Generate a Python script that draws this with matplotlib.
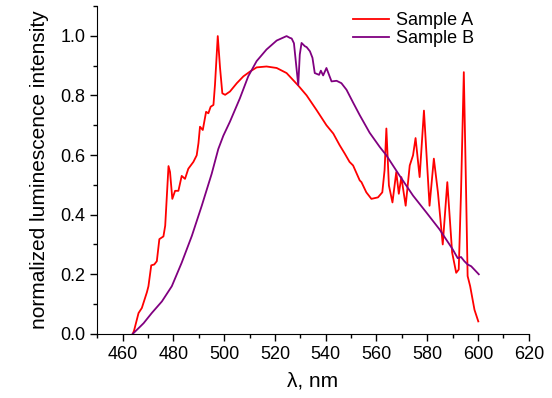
import numpy as np
import matplotlib
matplotlib.use("Agg")
from matplotlib import pyplot as plt
from matplotlib.ticker import MultipleLocator

# Sample A (red) - wavelength (nm) / normalized intensity
wl_a = [464.0, 464.5, 466.3, 467.6, 469.6, 470.2, 471.3, 472.5, 473.5, 474.5,
        476.1, 476.8, 478.1, 478.7, 479.6, 480.7, 482.0, 483.3, 484.6, 485.9,
        487.9, 489.2, 489.9, 490.5, 491.6, 492.9, 493.8, 494.7, 495.8, 496.4,
        497.5, 498.4, 499.3, 500.4, 502.3, 505.0, 507.6, 510.2, 512.8, 516.7,
        520.7, 524.6, 529.2, 532.5, 536.4, 540.3, 543.0, 545.5, 547.5, 549.4,
        550.8, 553.4, 554.1, 556.0, 558.0, 560.6, 562.3, 563.2, 563.9, 564.9,
        566.3, 567.8, 568.8, 569.8, 571.5, 573.1, 574.4, 575.4, 577.0, 578.7,
        580.9, 582.6, 584.2, 586.1, 587.9, 589.8, 591.4, 592.4, 593.3, 594.4,
        595.3, 595.9, 596.9, 598.6, 600.1]
int_a = [0.0, 0.01, 0.07, 0.087, 0.14, 0.16, 0.23, 0.233, 0.244, 0.318,
         0.327, 0.363, 0.563, 0.543, 0.453, 0.48, 0.48, 0.53, 0.52, 0.554,
         0.577, 0.599, 0.64, 0.695, 0.684, 0.745, 0.74, 0.762, 0.768, 0.835,
         0.999, 0.892, 0.807, 0.802, 0.813, 0.841, 0.864, 0.88, 0.894, 0.897,
         0.892, 0.875, 0.833, 0.80, 0.751, 0.70, 0.672, 0.633, 0.605, 0.577,
         0.565, 0.515, 0.509, 0.475, 0.453, 0.458, 0.475, 0.55, 0.689, 0.498,
         0.441, 0.543, 0.47, 0.526, 0.43, 0.565, 0.599, 0.657, 0.526, 0.749,
         0.43, 0.588, 0.475, 0.30, 0.509, 0.273, 0.205, 0.216, 0.475, 0.878,
         0.475, 0.194, 0.16, 0.081, 0.042]

# Sample B (purple)
wl_b = [464.0, 467.0, 468.3, 471.5, 475.5, 479.4, 483.3, 487.3, 491.2, 495.1,
        497.7, 499.7, 502.3, 506.2, 509.5, 512.8, 516.7, 520.7, 524.6, 525.9,
        526.6, 527.5, 528.5, 529.2, 529.8, 530.5, 531.8, 532.5, 533.8, 534.8,
        535.7, 537.4, 538.1, 539.0, 540.3, 542.3, 544.3, 546.2, 548.2, 550.8,
        553.4, 557.3, 561.3, 563.9, 569.1, 574.4, 579.6, 584.8, 590.0, 592.0,
        593.3, 594.6, 595.9, 597.3, 600.3]
int_b = [0.0, 0.025, 0.036, 0.07, 0.109, 0.16, 0.239, 0.329, 0.43, 0.537,
         0.62, 0.665, 0.712, 0.79, 0.864, 0.915, 0.954, 0.984, 0.999, 0.993,
         0.991, 0.975, 0.892, 0.835, 0.937, 0.976, 0.965, 0.962, 0.948, 0.926,
         0.875, 0.869, 0.883, 0.867, 0.892, 0.847, 0.849, 0.841, 0.819, 0.776,
         0.734, 0.675, 0.627, 0.599, 0.531, 0.464, 0.408, 0.351, 0.284, 0.254,
         0.258, 0.244, 0.233, 0.227, 0.20]

plt.rcParams['font.family'] = ['Liberation Sans', 'DejaVu Sans']

fig = plt.figure(figsize=(5.52, 3.98), dpi=100)
ax = fig.add_axes([0.176, 0.161, 0.782, 0.824])

ax.plot(wl_a, int_a, color='#ff0000', lw=1.3, label='Sample A')
ax.plot(wl_b, int_b, color='#800080', lw=1.3, label='Sample B')

ax.set_xlim(450, 620)
ax.set_ylim(0, 1.1)
ax.xaxis.set_major_locator(MultipleLocator(20))
ax.xaxis.set_minor_locator(MultipleLocator(10))
ax.yaxis.set_major_locator(MultipleLocator(0.2))
ax.yaxis.set_minor_locator(MultipleLocator(0.1))
ax.yaxis.set_major_formatter(matplotlib.ticker.FormatStrFormatter('%.1f'))
ax.tick_params(which='major', direction='out', length=5, width=1, labelsize=13)
ax.tick_params(which='minor', direction='out', length=3, width=1)

for s in ['top', 'right']:
    ax.spines[s].set_visible(False)

ax.set_xlabel('λ, nm', fontsize=15, labelpad=6)
ax.set_ylabel('normalized luminescence intensity', fontsize=15, labelpad=8)

ax.legend(loc='upper right', bbox_to_anchor=(0.912, 1.03), frameon=False,
          fontsize=13, handlelength=2.0, handletextpad=0.4, labelspacing=0.05)

fig.savefig('out.png', dpi=100)
